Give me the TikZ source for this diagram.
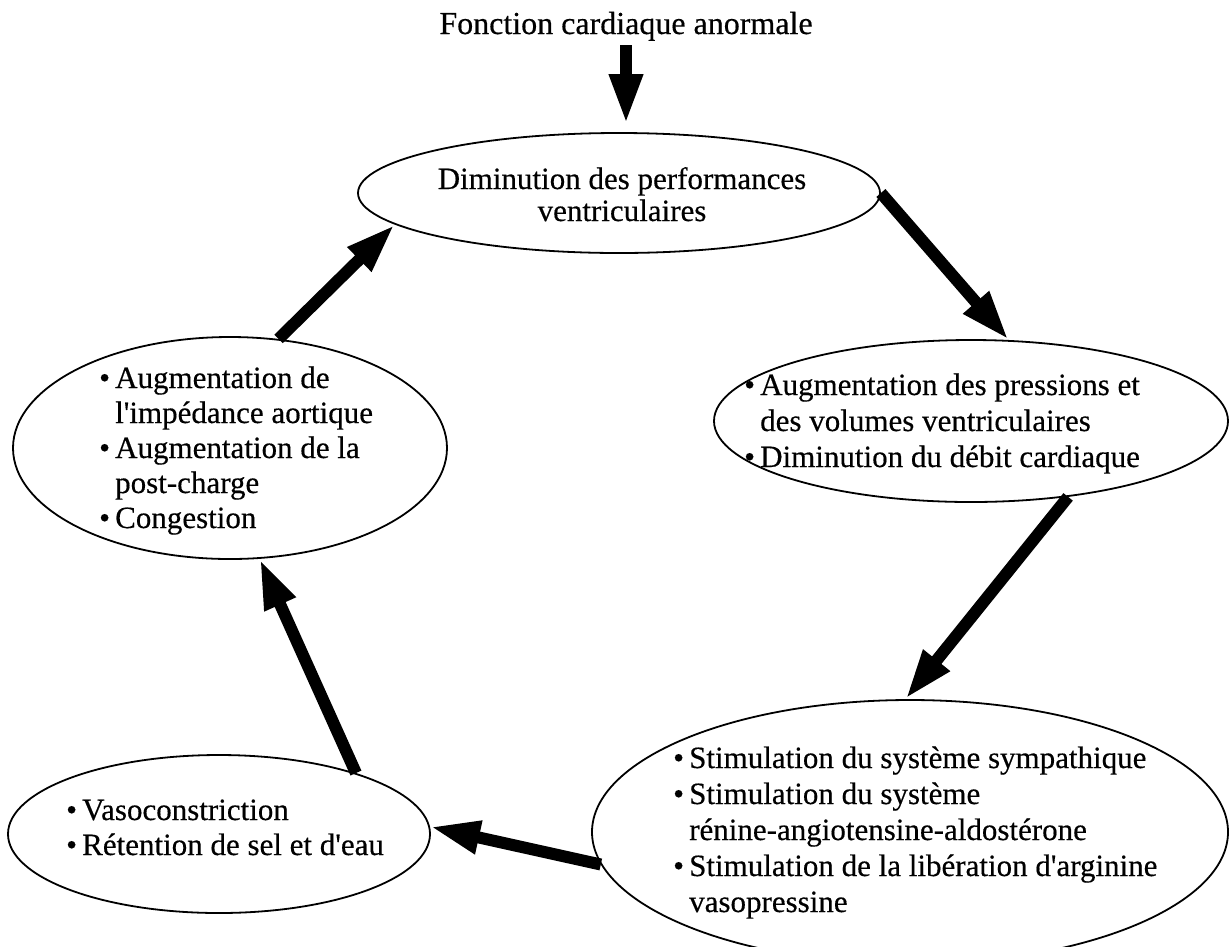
\documentclass[tikz,border=0pt]{standalone}
\usepackage{fontspec}
\setmainfont{Liberation Serif}[FakeBold=0.4]
\usetikzlibrary{shapes.geometric,arrows.meta}
\newlength{\bulw}\setlength{\bulw}{16pt}
\newcommand{\ap}{\textquotesingle}
\newcommand{\itm}[1]{\par\hangindent=\bulw\hangafter=1\noindent\makebox[\bulw][l]{\textbullet}#1}
\newcommand{\blk}[2]{\parbox[t]{700pt}{\fontsize{31}{#1}\selectfont #2}}
\tikzset{
  ell/.style={draw, line width=1.8pt, ellipse, inner sep=0pt},
  fat/.style={line width=12pt, -{Triangle[length=50pt,width=31pt]}},
  txt/.style={inner sep=0pt, anchor=base west}
}
\begin{document}
\begin{tikzpicture}[x=1pt,y=-1pt]
\useasboundingbox (0,0) rectangle (1230,946);
% ellipses
\node[ell, minimum width=522pt, minimum height=120pt] (E1) at (619,193) {};
\node[ell, minimum width=514pt, minimum height=162pt] (E2) at (971,421) {};
\node[ell, minimum width=636pt, minimum height=264pt] (E3) at (910,832) {};
\node[ell, minimum width=422pt, minimum height=158pt] (E4) at (219,834) {};
\node[ell, minimum width=434pt, minimum height=222pt] (E5) at (230,448) {};
% texts
\node[inner sep=0pt, anchor=base, font=\fontsize{32}{35}\selectfont] (title) at (626,34) {Fonction cardiaque anormale};
\node[inner sep=0pt, anchor=base] (t1) at (622,189) {\fontsize{31}{32}\selectfont\begin{tabular}[t]{@{}c@{}}Diminution des performances\\ventriculaires\end{tabular}};
\node[txt] (t2) at (744,395) {\blk{36}{\itm{Augmentation des pressions et\\des volumes ventriculaires}\itm{Diminution du débit cardiaque}}};
\node[txt] (t3) at (673,768) {\blk{36}{\itm{Stimulation du système sympathique}\itm{Stimulation du système\\rénine-angiotensine-aldostérone}\itm{Stimulation de la libération d\ap arginine\\vasopressine}}};
\node[txt] (t4) at (66,820) {\blk{35}{\itm{Vasoconstriction}\itm{Rétention de sel et d\ap eau}}};
\node[txt] (t5) at (99,388) {\blk{35}{\itm{Augmentation de\\l\ap impédance aortique}\itm{Augmentation de la\\post-charge}\itm{Congestion}}};
% arrows
\draw[fat, shorten <=4pt, shorten >=8pt] (title.south) -- (title.south |- E1.north);
\draw[fat] (E1.0) -- (E2.65.2);
\draw[fat] (E2.-38.4) -- (E3.92);
\draw[fat] (E3.186.6) -- (E4.2.9);
\draw[fat] (E4.24.2) -- (E5.-75.1);
\draw[fat] (E5.66.1) -- (E1.188.8);
\end{tikzpicture}
\end{document}
